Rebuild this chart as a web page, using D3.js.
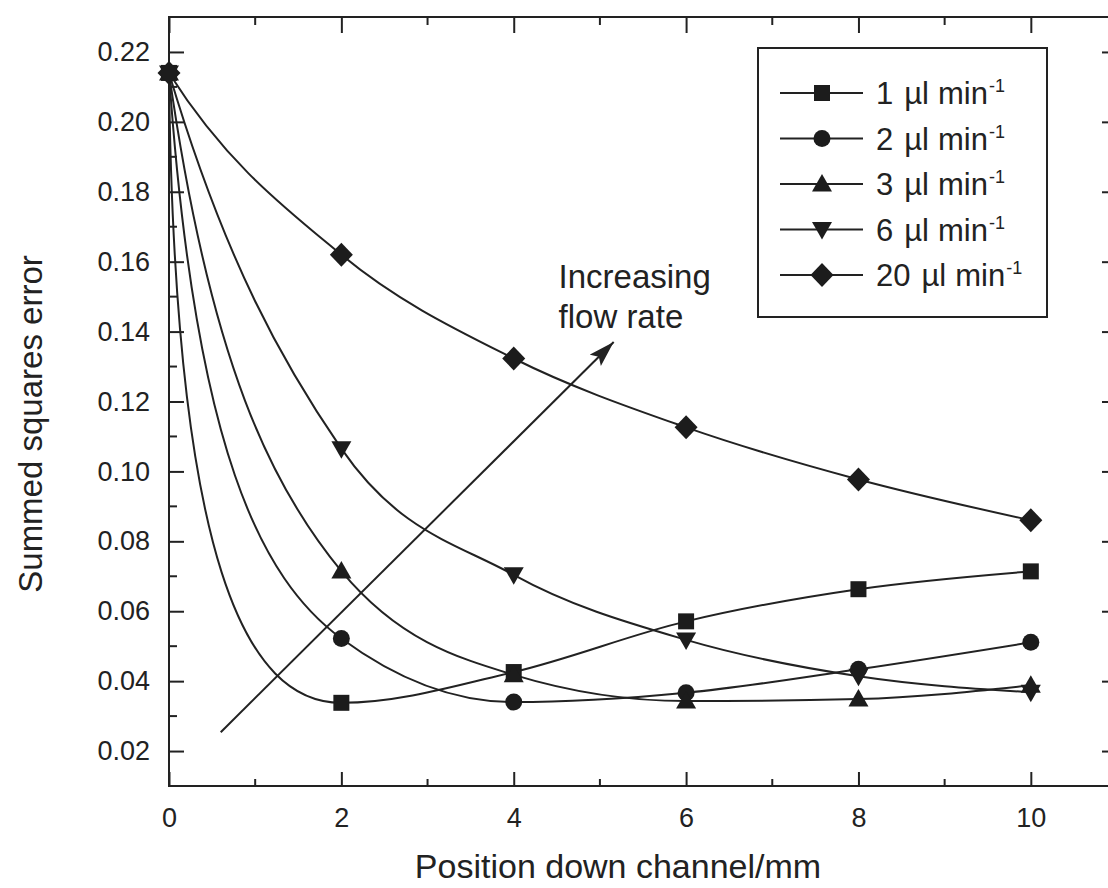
<!DOCTYPE html>
<html>
<head>
<meta charset="utf-8">
<script src="https://cdn.jsdelivr.net/npm/d3@7"></script>
<style>
  html, body { margin: 0; padding: 0; background: #fff; }
  svg { display: block; font-family: "Liberation Sans", Arial, Helvetica, sans-serif; }
  .axis-line { stroke: #222; stroke-width: 2; fill: none; }
</style>
</head>
<body>
<div id="chart"></div>
<script>
// positions down the channel (mm)
var positions = [0, 2, 4, 6, 8, 10];

// summed squares error for each flow rate
var flow1  = [0.214, 0.0338, 0.0426, 0.0571, 0.0663, 0.0714];
var flow2  = [0.214, 0.0522, 0.0340, 0.0367, 0.0434, 0.0511];
var flow3  = [0.214, 0.0715, 0.0418, 0.0343, 0.0349, 0.0388];
var flow6  = [0.214, 0.1065, 0.0704, 0.0518, 0.0414, 0.0368];
var flow20 = [0.214, 0.1620, 0.1323, 0.1126, 0.0977, 0.0860];

var seriesNames = ["1", "2", "3", "6", "20"];
var seriesShapes = ["square", "circle", "triangleUp", "triangleDown", "diamond"];
var seriesValues = [flow1, flow2, flow3, flow6, flow20];

var xTicks = [0, 2, 4, 6, 8, 10];
var xMinorTicks = [1, 3, 5, 7, 9];
var yTicks = [0.02, 0.04, 0.06, 0.08, 0.10, 0.12, 0.14, 0.16, 0.18, 0.20, 0.22];
var yMinorTicks = [0.01, 0.03, 0.05, 0.07, 0.09, 0.11, 0.13, 0.15, 0.17, 0.19, 0.21, 0.23];

// arrow annotation, in data units
var arrowFrom = [0.6, 0.0254];
var arrowTo = [5.16, 0.137];
var noteLines = ["Increasing", "flow rate"];
var notePos = [4.52, 0.1526];

var width = 1108, height = 888;
var margin = {left: 169, top: 17, right: 1117, bottom: 786};

var x = d3.scaleLinear().domain([0, 11]).range([margin.left, margin.right]);
var y = d3.scaleLinear().domain([0.01, 0.23]).range([margin.bottom, margin.top]);

var svg = d3.select("#chart").append("svg")
  .attr("width", width)
  .attr("height", height);

// smooth curve: monotone tangents, first segment drawn with a sharper knee
function KneeCurve(context) { this._context = context; }
KneeCurve.prototype = {
  areaStart: function() {}, areaEnd: function() {},
  lineStart: function() { this._x = []; this._y = []; },
  point: function(px, py) { this._x.push(+px); this._y.push(+py); },
  lineEnd: function() {
    var X = this._x, Y = this._y, n = X.length, c = this._context;
    if (!n) return;
    c.moveTo(X[0], Y[0]);
    if (n < 2) return;
    var sl = d3.range(n - 1).map(function(i) { return (Y[i + 1] - Y[i]) / (X[i + 1] - X[i]); });
    var t = new Array(n);
    for (var i = 1; i < n - 1; i++) {
      var h0 = X[i] - X[i - 1], h1 = X[i + 1] - X[i], s0 = sl[i - 1], s1 = sl[i];
      var p = (s0 * h1 + s1 * h0) / (h0 + h1);
      t[i] = (Math.sign(s0) + Math.sign(s1)) * Math.min(Math.abs(s0), Math.abs(s1), 0.5 * Math.abs(p)) || 0;
    }
    t[n - 1] = n > 2 ? (3 * sl[n - 2] - t[n - 2]) / 2 : sl[0];
    var t1 = n > 2 ? t[1] : sl[0];
    var h = X[1] - X[0];
    var q = sl[0] !== 0 ? 1 - t1 / sl[0] : 0;
    var k = Math.pow(Math.max(0, Math.min(1, (q - 0.3) / 0.7)), 1.3);
    var a = 1 / 3 - (1 / 3 - 0.03) * k, b = 0.5 + 0.28 * k, L2 = 0.33 + 0.22 * k;
    c.bezierCurveTo(X[0] + a * h, Y[0] + b * (Y[1] - Y[0]),
                    X[1] - L2 * h, Y[1] - t1 * L2 * h,
                    X[1], Y[1]);
    for (var j = 1; j < n - 1; j++) {
      var hh = X[j + 1] - X[j];
      c.bezierCurveTo(X[j] + hh / 3, Y[j] + t[j] * hh / 3,
                      X[j + 1] - hh / 3, Y[j + 1] - t[j + 1] * hh / 3,
                      X[j + 1], Y[j + 1]);
    }
  }
};
var kneeCurve = function(ctx) { return new KneeCurve(ctx); };

function markerPath(shape) {
  switch (shape) {
    case "square": return "M-8,-8H8V8H-8Z";
    case "circle": return "M8.5,0A8.5,8.5 0 1 1 -8.5,0A8.5,8.5 0 1 1 8.5,0Z";
    case "triangleUp": return "M0,-10L10,7.5H-10Z";
    case "triangleDown": return "M0,10L10,-7.5H-10Z";
    case "diamond": return "M0,-12L11.5,0L0,12L-11.5,0Z";
  }
}

// axes frame
var axisColor = "#222";
svg.append("rect")
  .attr("x", margin.left).attr("y", margin.top)
  .attr("width", margin.right - margin.left).attr("height", margin.bottom - margin.top)
  .attr("class", "axis-line");

// bottom / top axis, ticks inward
var xAxisB = d3.axisBottom(x).tickValues(xTicks).tickSize(-14).tickPadding(26).tickFormat(d3.format("d"));
var gxb = svg.append("g").attr("transform", "translate(0," + margin.bottom + ")").call(xAxisB);
gxb.append("g").selectAll("line").data(xMinorTicks).enter().append("line")
  .attr("x1", function(d) { return x(d); }).attr("x2", function(d) { return x(d); })
  .attr("y1", 0).attr("y2", -7);

var xAxisT = d3.axisTop(x).tickValues(xTicks).tickSize(-16).tickFormat("");
var gxt = svg.append("g").attr("transform", "translate(0," + margin.top + ")").call(xAxisT);
gxt.append("g").selectAll("line").data(xMinorTicks).enter().append("line")
  .attr("x1", function(d) { return x(d); }).attr("x2", function(d) { return x(d); })
  .attr("y1", 0).attr("y2", 8);

// left / right axis
var yAxisL = d3.axisLeft(y).tickValues(yTicks).tickSize(-15).tickPadding(19).tickFormat(d3.format(".2f"));
var gyl = svg.append("g").attr("transform", "translate(" + margin.left + ",0)").call(yAxisL);
gyl.append("g").selectAll("line").data(yMinorTicks).enter().append("line")
  .attr("y1", function(d) { return y(d); }).attr("y2", function(d) { return y(d); })
  .attr("x1", 0).attr("x2", 8);

var yAxisR = d3.axisRight(y).tickValues(yTicks).tickSize(-15).tickFormat("");
var gyr = svg.append("g").attr("transform", "translate(" + margin.right + ",0)").call(yAxisR);
gyr.append("g").selectAll("line").data(yMinorTicks).enter().append("line")
  .attr("y1", function(d) { return y(d); }).attr("y2", function(d) { return y(d); })
  .attr("x1", 0).attr("x2", -8);

[gxb, gxt, gyl, gyr].forEach(function(g) {
  g.select(".domain").remove();
  g.selectAll("line").attr("stroke", axisColor).attr("stroke-width", 2);
  g.selectAll("text").attr("fill", axisColor).style("font-size", "27px")
    .style("font-family", "'Liberation Sans', Arial, sans-serif");
});
gxb.selectAll(".tick text").attr("dy", "0.71em").attr("y", 22);

// axis titles
svg.append("text")
  .attr("x", 618).attr("y", 878)
  .attr("text-anchor", "middle")
  .attr("fill", axisColor)
  .style("font-size", "34px")
  .text("Position down channel/mm");

svg.append("text")
  .attr("transform", "translate(42,424) rotate(-90)")
  .attr("text-anchor", "middle")
  .attr("fill", axisColor)
  .style("font-size", "33px")
  .text("Summed squares error");

// curves
var line = d3.line()
  .x(function(d) { return x(d[0]); })
  .y(function(d) { return y(d[1]); })
  .curve(kneeCurve);

var series = seriesValues.map(function(vals, i) {
  return { name: seriesNames[i], shape: seriesShapes[i],
           points: positions.map(function(p, j) { return [p, vals[j]]; }) };
});

var plot = svg.append("g");
plot.selectAll("path.curve").data(series).enter().append("path")
  .attr("class", "curve")
  .attr("d", function(d) { return line(d.points); })
  .attr("fill", "none")
  .attr("stroke", axisColor)
  .attr("stroke-width", 2);

series.forEach(function(s) {
  plot.selectAll(null).data(s.points).enter().append("path")
    .attr("transform", function(d) { return "translate(" + x(d[0]) + "," + y(d[1]) + ")"; })
    .attr("d", markerPath(s.shape))
    .attr("fill", "#1c1c1c");
});

// arrow annotation
svg.append("defs").append("marker")
  .attr("id", "arrowhead")
  .attr("markerUnits", "userSpaceOnUse")
  .attr("markerWidth", 30).attr("markerHeight", 20)
  .attr("refX", 26).attr("refY", 8)
  .attr("orient", "auto")
  .append("path")
  .attr("d", "M0,0L26,8L0,16L5,8Z")
  .attr("fill", axisColor);

svg.append("line")
  .attr("x1", x(arrowFrom[0])).attr("y1", y(arrowFrom[1]))
  .attr("x2", x(arrowTo[0])).attr("y2", y(arrowTo[1]))
  .attr("stroke", axisColor).attr("stroke-width", 2)
  .attr("marker-end", "url(#arrowhead)");

svg.append("g").selectAll("text").data(noteLines).enter().append("text")
  .attr("x", x(notePos[0]))
  .attr("y", function(d, i) { return y(notePos[1]) + i * 40; })
  .attr("fill", axisColor)
  .style("font-size", "33px")
  .text(function(d) { return d; });

// legend
var legend = svg.append("g");
legend.append("rect")
  .attr("x", 758).attr("y", 48).attr("width", 289).attr("height", 269)
  .attr("fill", "#fff").attr("stroke", axisColor).attr("stroke-width", 2);

var rows = legend.selectAll("g.row").data(series).enter().append("g")
  .attr("class", "row")
  .attr("transform", function(d, i) { return "translate(0," + (93 + i * 45.5) + ")"; });
rows.append("line")
  .attr("x1", 780).attr("x2", 863).attr("y1", 0).attr("y2", 0)
  .attr("stroke", axisColor).attr("stroke-width", 2);
rows.append("path")
  .attr("transform", "translate(822,0)")
  .attr("d", function(d) { return markerPath(d.shape); })
  .attr("fill", "#1c1c1c");

var label = rows.append("text")
  .attr("x", 876).attr("y", 11)
  .attr("fill", axisColor)
  .style("font-size", "31px");
label.append("tspan").text(function(d) { return d.name; });
label.append("tspan").attr("dx", 11).text("\u00b5l");
label.append("tspan").attr("dx", 9).text("min");
label.append("tspan")
  .attr("dx", 1).attr("dy", -12)
  .style("font-size", "18px")
  .text("-1");
</script>
</body>
</html>
